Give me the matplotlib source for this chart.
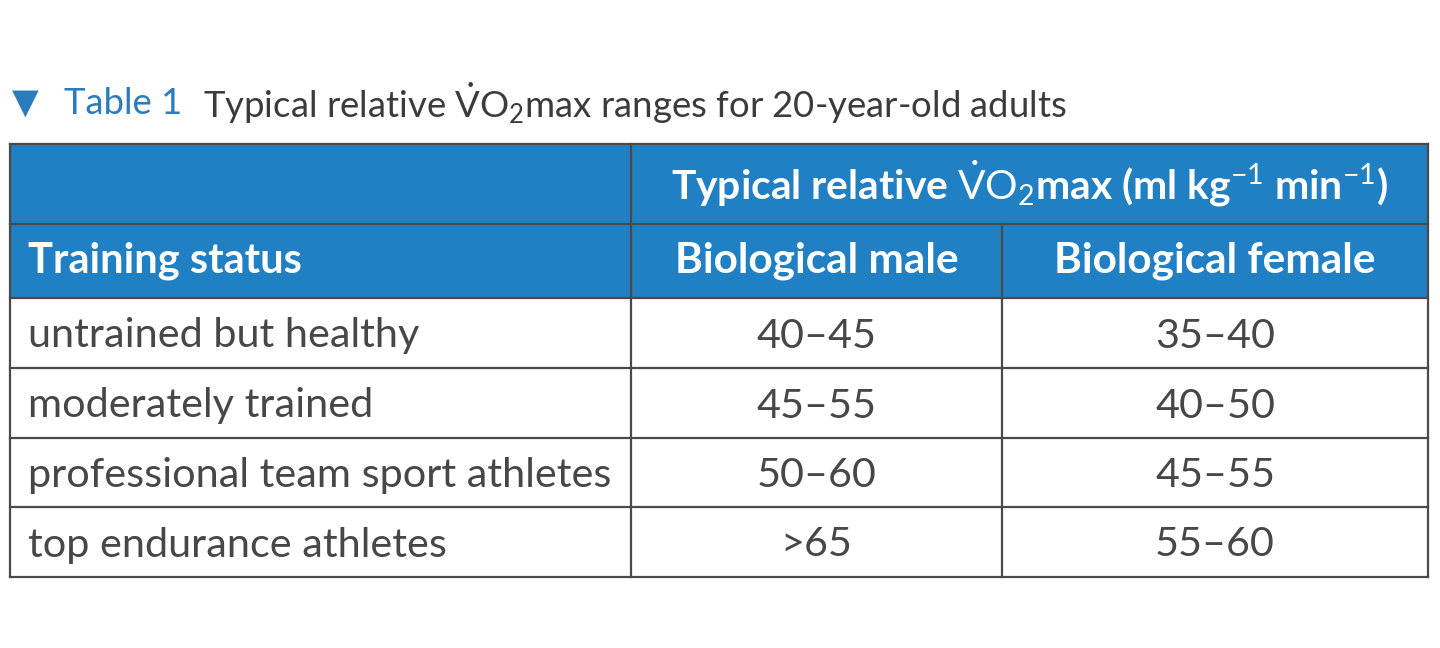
import matplotlib
matplotlib.use("Agg")
from matplotlib import pyplot as plt
from matplotlib.patches import Rectangle

# Table content.
row_labels = ["untrained but healthy", "moderately trained",
              "professional team sport athletes", "top endurance athletes"]
male_ranges = ["40\u201345", "45\u201355", "50\u201360", ">65"]
female_ranges = ["35\u201340", "40\u201350", "45\u201355", "55\u201360"]
col_headers = ["Training status", "Biological male", "Biological female"]
group_header = r"Typical relative $\dot{\mathrm{V}}\mathrm{O}_{2}$max (ml kg$^{-1}$ min$^{-1}$)"
title_num = "Table 1"
title_text = r"Typical relative $\dot{\mathrm{V}}\mathrm{O}_{2}$max ranges for 20-year-old adults"

plt.rcParams['font.family'] = ['Lato', 'DejaVu Sans']
plt.rcParams['mathtext.fontset'] = 'custom'
plt.rcParams['mathtext.rm'] = 'Lato'
plt.rcParams['mathtext.it'] = 'Lato:italic'
plt.rcParams['mathtext.bf'] = 'Lato:bold'

blue = '#2180c3'
title_blue = '#2b7cbd'
dark = '#3b3b3b'
body_col = '#474747'
edge = '#4a4a4a'

fig = plt.figure(figsize=(14.4, 6.48), dpi=100)
ax = fig.add_axes([0, 0, 1, 1])
ax.set_xlim(0, 1440)
ax.set_ylim(648, 0)
ax.axis('off')

x_cols = [10, 631, 1002, 1428]
y_rows = [144, 224, 298, 368, 438, 507, 577]

# Title line.
ax.text(12, 103, "\u25bc", color=title_blue, fontsize=25, va='center', ha='left')
ax.text(64, 103, title_num, color=title_blue, fontsize=26.3, va='center', ha='left')
ax.text(203, 103, title_text, color=dark, fontsize=26.3, va='center', ha='left')

# Header band.
ax.add_patch(Rectangle((x_cols[0], y_rows[0]), x_cols[-1] - x_cols[0],
                       y_rows[2] - y_rows[0], facecolor=blue, edgecolor='none'))

hfs = 30
ax.text((x_cols[1] + x_cols[3]) / 2, (y_rows[0] + y_rows[1]) / 2, group_header,
        color='white', fontsize=hfs - 0.7, fontweight='bold', ha='center', va='center')
ax.text(28, (y_rows[1] + y_rows[2]) / 2, col_headers[0], color='white',
        fontsize=hfs, fontweight='bold', ha='left', va='center')
for i in (1, 2):
    ax.text((x_cols[i] + x_cols[i + 1]) / 2, (y_rows[1] + y_rows[2]) / 2,
            col_headers[i], color='white', fontsize=hfs + 0.5, fontweight='bold',
            ha='center', va='center')

# Body rows.
bfs = 29.8
for r, (lab, m, f) in enumerate(zip(row_labels, male_ranges, female_ranges)):
    yc = (y_rows[r + 2] + y_rows[r + 3]) / 2 + 3
    ax.text(28, yc, lab, color=body_col, fontsize=bfs, ha='left', va='center')
    ax.text((x_cols[1] + x_cols[2]) / 2, yc, m, color=body_col, fontsize=bfs,
            ha='center', va='center')
    ax.text((x_cols[2] + x_cols[3]) / 2, yc, f, color=body_col, fontsize=bfs,
            ha='center', va='center')

# Grid lines.
lw = 1.6
for y in y_rows:
    ax.plot([x_cols[0], x_cols[-1]], [y, y], color=edge, lw=lw)
ax.plot([x_cols[0], x_cols[0]], [y_rows[0], y_rows[-1]], color=edge, lw=lw)
ax.plot([x_cols[-1], x_cols[-1]], [y_rows[0], y_rows[-1]], color=edge, lw=lw)
ax.plot([x_cols[1], x_cols[1]], [y_rows[0], y_rows[-1]], color=edge, lw=lw)
ax.plot([x_cols[2], x_cols[2]], [y_rows[1], y_rows[-1]], color=edge, lw=lw)

fig.savefig('out.png', dpi=100, facecolor='white')
